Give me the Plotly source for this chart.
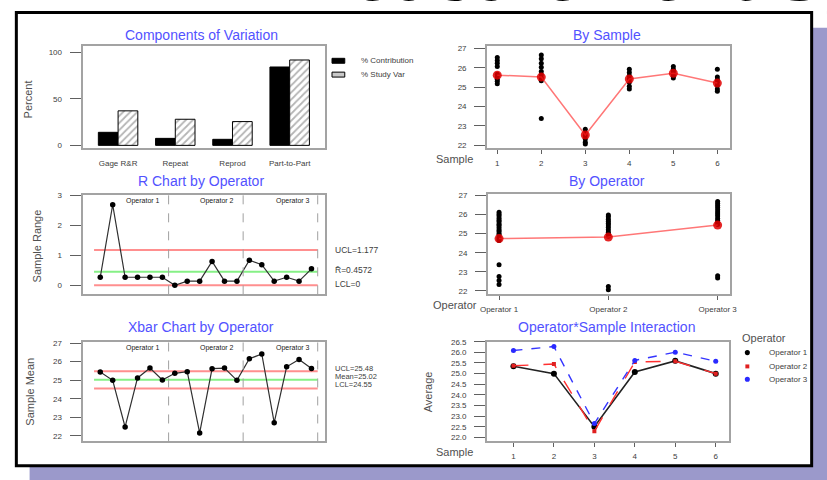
import plotly.graph_objects as go

W, H = 827, 480

# ---------------- data ----------------
components = ["Gage R&R", "Repeat", "Reprod", "Part-to-Part"]
pct_contribution = [14, 7.5, 6.5, 84]
pct_study_var = [37, 28, 25.5, 91.5]

samples = [1, 2, 3, 4, 5, 6]
sample_1_obs = [26.53, 26.38, 26.23, 26.07, 25.67, 25.55, 25.41, 25.30, 25.18]
sample_2_obs = [26.66, 26.46, 26.23, 26.03, 25.81, 25.64, 25.47, 25.33, 23.38]
sample_3_obs = [22.83, 22.66, 22.49, 22.32, 22.15, 22.07]
sample_4_obs = [25.93, 25.76, 25.59, 25.42, 25.25, 25.05, 24.91]
sample_5_obs = [26.07, 25.93, 25.81, 25.67, 25.56, 25.47]
sample_6_obs = [25.93, 25.52, 25.38, 25.25, 25.08, 24.91, 24.79]
sample_means = [25.62, 25.52, 22.53, 25.42, 25.72, 25.21]

operators = ["Operator 1", "Operator 2", "Operator 3"]
operator_1_obs = [26.12, 26.02, 25.93, 25.81, 25.70, 25.62, 25.51, 25.44, 25.32, 25.20,
                  25.12, 25.01, 24.93, 24.81, 24.72, 24.64, 23.37, 22.75, 22.54, 22.34]
operator_2_obs = [25.98, 25.88, 25.76, 25.65, 25.55, 25.46, 25.33, 25.21, 25.08, 24.97,
                  24.87, 22.23, 22.06]
operator_3_obs = [26.69, 26.58, 26.47, 26.37, 26.25, 26.14, 26.03, 25.92, 25.80, 25.69,
                  25.58, 25.48, 22.80, 22.68]
operator_means = [24.74, 24.82, 25.45]

subgroups = list(range(1, 19))
sample_ranges = [0.27, 2.69, 0.27, 0.27, 0.27, 0.27,
                 0.00, 0.14, 0.14, 0.80, 0.14, 0.14,
                 0.84, 0.69, 0.14, 0.27, 0.14, 0.55]
r_ucl, r_bar, r_lcl = 1.177, 0.4572, 0.0

sample_means_by_op = [25.44, 24.99, 22.48, 25.12, 25.65, 25.01,
                      25.37, 25.46, 22.16, 25.62, 25.65, 24.99,
                      26.15, 26.41, 22.71, 25.72, 26.11, 25.63]
x_ucl, x_mean, x_lcl = 25.48, 25.02, 24.55

interaction_op1 = [25.35, 25.0, 22.5, 25.08, 25.6, 25.0]
interaction_op2 = [25.37, 25.45, 22.29, 25.55, 25.58, 25.0]
interaction_op3 = [26.09, 26.27, 22.65, 25.62, 26.01, 25.58]

# ---------------- helpers ----------------
FONT = "Arial, Liberation Sans, sans-serif"
TITLE_BLUE = "#5252ff"
TXT = "#404040"


def dom_x(a, b):
    return [a / W, b / W]


def dom_y(top, bottom):
    return [1 - bottom / H, 1 - top / H]


def px(xp, yp):
    return xp / W, 1 - yp / H


annotations = []


def ann(text, xp, yp, size=8, color=TXT, xanchor="center", yanchor="middle", angle=0):
    x, y = px(xp, yp)
    annotations.append(dict(text=text, x=x, y=y, xref="paper", yref="paper",
                            xanchor=xanchor, yanchor=yanchor, showarrow=False,
                            textangle=angle, font=dict(family=FONT, size=size, color=color)))


def yax(domain, rng, tickvals, anchor, fmt=None):
    d = dict(domain=domain, range=rng, tickvals=tickvals, anchor=anchor,
             showline=True, mirror=True, linecolor="#a3a3a3", linewidth=2,
             ticks="outside", ticklen=11, tickwidth=1, tickcolor="#606060",
             ticklabelstandoff=6, showgrid=False, zeroline=False,
             tickfont=dict(family=FONT, size=8, color=TXT))
    if fmt:
        d["tickformat"] = fmt
    return d


def xax(domain, rng, anchor, tickvals=None, ticktext=None, ticks="outside", standoff=2):
    d = dict(domain=domain, range=rng, anchor=anchor,
             showline=True, mirror=True, linecolor="#a3a3a3", linewidth=2,
             ticks=ticks, ticklen=4, tickwidth=1, tickcolor="#606060",
             ticklabelstandoff=standoff, showgrid=False, zeroline=False,
             tickfont=dict(family=FONT, size=8, color=TXT))
    if tickvals is not None:
        d["tickvals"] = tickvals
    if ticktext is not None:
        d["ticktext"] = ticktext
    return d


fig = go.Figure()

# ---- Panel 1: Components of Variation ----
fig.add_trace(go.Bar(x=components, y=pct_contribution, xaxis="x", yaxis="y",
                     marker=dict(color="black", line=dict(color="black", width=1)),
                     name="% Contribution"))
fig.add_trace(go.Bar(x=components, y=pct_study_var, xaxis="x", yaxis="y",
                     marker=dict(color="white", line=dict(color="black", width=1),
                                 pattern=dict(shape="/", fgcolor="#6a6a6a", bgcolor="white",
                                              size=5, solidity=0.35)),
                     name="% Study Var"))

# ---- Panel 2: By Sample ----
for s, obs in zip(samples, [sample_1_obs, sample_2_obs, sample_3_obs,
                            sample_4_obs, sample_5_obs, sample_6_obs]):
    fig.add_trace(go.Scatter(x=[s] * len(obs), y=obs, xaxis="x2", yaxis="y2", mode="markers",
                             marker=dict(color="black", size=5)))
fig.add_trace(go.Scatter(x=samples, y=sample_means, xaxis="x2", yaxis="y2", mode="lines+markers",
                         line=dict(color="#ff7777", width=1.5),
                         marker=dict(color="rgba(225,0,0,0.85)", size=9)))

# ---- Panel 3: R chart ----
lim_x = [0.5, 18.5]
fig.add_trace(go.Scatter(x=lim_x, y=[r_ucl, r_ucl], xaxis="x3", yaxis="y3", mode="lines",
                         line=dict(color="#ff8f8f", width=2)))
fig.add_trace(go.Scatter(x=lim_x, y=[r_bar, r_bar], xaxis="x3", yaxis="y3", mode="lines",
                         line=dict(color="#86f086", width=2)))
fig.add_trace(go.Scatter(x=lim_x, y=[r_lcl, r_lcl], xaxis="x3", yaxis="y3", mode="lines",
                         line=dict(color="#ff8f8f", width=2)))
fig.add_trace(go.Scatter(x=subgroups, y=sample_ranges, xaxis="x3", yaxis="y3", mode="lines+markers",
                         line=dict(color="#303030", width=1.2),
                         marker=dict(color="black", size=5.5)))

# ---- Panel 4: By Operator ----
op_pos = [1, 2, 3]
for o, obs in zip(op_pos, [operator_1_obs, operator_2_obs, operator_3_obs]):
    fig.add_trace(go.Scatter(x=[o] * len(obs), y=obs, xaxis="x4", yaxis="y4", mode="markers",
                             marker=dict(color="black", size=5)))
fig.add_trace(go.Scatter(x=op_pos, y=operator_means, xaxis="x4", yaxis="y4", mode="lines+markers",
                         line=dict(color="#ff7777", width=1.5),
                         marker=dict(color="rgba(225,0,0,0.85)", size=9)))

# ---- Panel 5: Xbar chart ----
fig.add_trace(go.Scatter(x=lim_x, y=[x_ucl, x_ucl], xaxis="x5", yaxis="y5", mode="lines",
                         line=dict(color="#ff8f8f", width=2)))
fig.add_trace(go.Scatter(x=lim_x, y=[x_mean, x_mean], xaxis="x5", yaxis="y5", mode="lines",
                         line=dict(color="#86f086", width=2)))
fig.add_trace(go.Scatter(x=lim_x, y=[x_lcl, x_lcl], xaxis="x5", yaxis="y5", mode="lines",
                         line=dict(color="#ff8f8f", width=2)))
fig.add_trace(go.Scatter(x=subgroups, y=sample_means_by_op, xaxis="x5", yaxis="y5",
                         mode="lines+markers", line=dict(color="#303030", width=1.2),
                         marker=dict(color="black", size=5.5)))

# ---- Panel 6: Interaction ----
fig.add_trace(go.Scatter(x=samples, y=interaction_op1, xaxis="x6", yaxis="y6", mode="lines+markers",
                         line=dict(color="#222222", width=1.6),
                         marker=dict(color="black", size=6)))
fig.add_trace(go.Scatter(x=samples, y=interaction_op2, xaxis="x6", yaxis="y6", mode="lines+markers",
                         line=dict(color="#ff3030", width=1.4, dash="longdash"),
                         marker=dict(color="#e02020", size=4, symbol="square")))
fig.add_trace(go.Scatter(x=samples, y=interaction_op3, xaxis="x6", yaxis="y6", mode="lines+markers",
                         line=dict(color="#3535ff", width=1.4, dash="dash"),
                         marker=dict(color="#2a2aff", size=5)))

# ---------------- axes ----------------
layout_axes = dict(
    xaxis=xax(dom_x(76, 323), [-0.62, 3.62], "y", ticks="", standoff=6),
    yaxis=yax(dom_y(43, 146), [-3, 106], [0, 50, 100], "x"),
    xaxis2=xax(dom_x(488, 735), [0.77, 6.28], "y2", tickvals=samples),
    yaxis2=yax(dom_y(43, 146), [21.85, 27.1], [22, 23, 24, 25, 26, 27], "x2"),
    xaxis3=xax(dom_x(76, 323), [-0.42, 19.1], "y3", tickvals=[], ticks=""),
    yaxis3=yax(dom_y(193, 294), [-0.3, 3.03], [0, 1, 2, 3], "x3"),
    xaxis4=xax(dom_x(489, 735), [0.9, 3.11], "y4", tickvals=op_pos, ticktext=operators),
    yaxis4=yax(dom_y(192, 294), [21.82, 27.1], [22, 23, 24, 25, 26, 27], "x4"),
    xaxis5=xax(dom_x(76, 323), [-0.42, 19.1], "y5", tickvals=[], ticks=""),
    yaxis5=yax(dom_y(342, 443), [21.7, 27.07], [22, 23, 24, 25, 26, 27], "x5"),
    xaxis6=xax(dom_x(488, 734), [0.35, 6.32], "y6", tickvals=samples),
    yaxis6=yax(dom_y(342, 443), [21.81, 26.5],
               [22.0, 22.5, 23.0, 23.5, 24.0, 24.5, 25.0, 25.5, 26.0, 26.5], "x6", fmt=".1f"),
)

# ---------------- shapes ----------------
shapes = [
    # slide shadow
    dict(type="rect", xref="paper", yref="paper", x0=22 / W, x1=1.05, y0=-0.05, y1=1 - 24 / H,
         fillcolor="#9b99cb", line=dict(width=0), layer="below"),
    # white framed box
    dict(type="rect", xref="paper", yref="paper", x0=8.5 / W, x1=818.5 / W,
         y0=1 - 467.5 / H, y1=1 - 8.5 / H,
         fillcolor="white", line=dict(color="black", width=3), layer="below"),
]
for xa, ya in (("x3", "y3"), ("x5", "y5")):
    for sep in (6.5, 12.5, 18.5):
        shapes.append(dict(type="line", xref=xa, yref=ya + " domain", x0=sep, x1=sep, y0=0, y1=1,
                           line=dict(color="#a0a0a0", width=1, dash="dash")))
    for lab, xpos in zip(operators, (4.4, 10.4, 16.5)):
        annotations.append(dict(text=lab, x=xpos, y=1, xref=xa, yref=ya + " domain",
                                xanchor="center", yanchor="top", showarrow=False,
                                font=dict(family=FONT, size=7, color="#202020")))

# legend of panel 1
shapes.append(dict(type="rect", xref="paper", yref="paper", x0=330 / W, x1=343 / W,
                   y0=1 - 60 / H, y1=1 - 55 / H, fillcolor="black", line=dict(color="black", width=1)))
shapes.append(dict(type="rect", xref="paper", yref="paper", x0=330 / W, x1=343 / W,
                   y0=1 - 74 / H, y1=1 - 69 / H, fillcolor="#c8c8c8", line=dict(color="black", width=1)))
ann("% Contribution", 357, 57, size=8, xanchor="left")
ann("% Study Var", 357, 71, size=8, xanchor="left")

# legend of panel 6
ann("Operator", 746, 338, size=11, color="#505050", xanchor="left")
leg_items = [("black", "circle", 353), ("#e02020", "square", 367), ("#2a2aff", "circle", 380)]
for (col, sym, yp), lab in zip(leg_items, operators):
    r = 2.6 if sym == "circle" else 2.0
    shapes.append(dict(type="circle" if sym == "circle" else "rect", xref="paper", yref="paper",
                       x0=(753 - r) / W, x1=(753 + r) / W, y0=1 - (yp + r) / H, y1=1 - (yp - r) / H,
                       fillcolor=col, line=dict(width=0)))
    ann(lab, 773, yp, size=8, xanchor="left")

# titles
for t, xp, yp in (("Components of Variation", 197, 31), ("By Sample", 610, 31),
                  ("R Chart by Operator", 197, 179), ("By Operator", 610, 179),
                  ("Xbar Chart by Operator", 197, 327), ("Operator*Sample Interaction", 610, 327)):
    ann(t, xp, yp, size=14, color=TITLE_BLUE)

# axis titles
ann("Percent", 20, 97, size=11, color="#505050", angle=-90)
ann("Sample Range", 29, 245, size=11, color="#505050", angle=-90)
ann("Sample Mean", 23, 393, size=11, color="#505050", angle=-90)
ann("Average", 428, 393, size=11, color="#505050", angle=-90)
ann("Sample", 455, 157, size=11, color="#505050")
ann("Operator", 455, 305, size=11, color="#505050")
ann("Sample", 455, 454, size=11, color="#505050")

# control-limit labels
ann("UCL=1.177", 331, 249, size=8.5, xanchor="left")
ann("R\u0304=0.4572", 331, 269, size=8.5, xanchor="left")
ann("LCL=0", 331, 284, size=8.5, xanchor="left")
ann("UCL=25.48", 331, 369, size=7.5, xanchor="left")
ann("Mean=25.02", 331, 377, size=7.5, xanchor="left")
ann("LCL=24.55", 331, 385, size=7.5, xanchor="left")

# slide heading (cut off at top)
ann("Measurement Systems Analysis", 283, 14, size=76, color="black", xanchor="left", yanchor="bottom")

fig.update_layout(
    width=W, height=H, margin=dict(l=0, r=0, t=0, b=0),
    paper_bgcolor="white", plot_bgcolor="white",
    showlegend=False, barmode="group", bargap=0.31, bargroupgap=0,
    font=dict(family=FONT, size=8, color=TXT),
    shapes=shapes, annotations=annotations,
    **layout_axes,
)

fig.write_html("out.html")
